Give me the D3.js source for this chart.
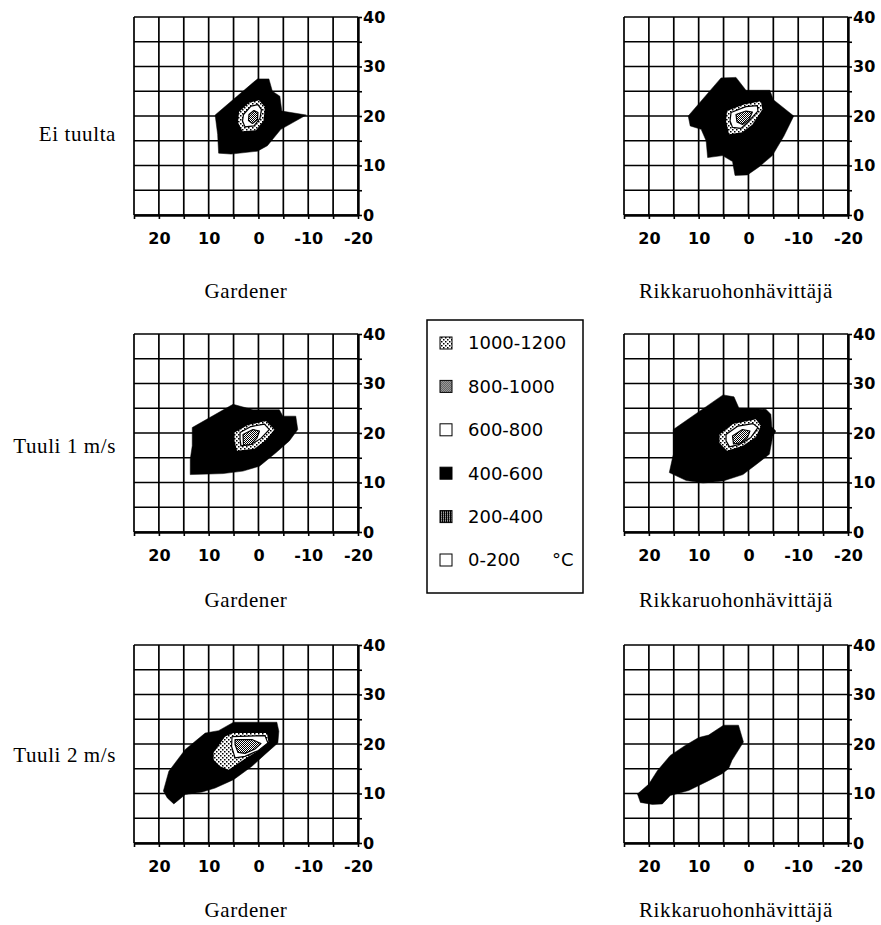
<!DOCTYPE html>
<html>
<head>
<meta charset="utf-8">
<script src="https://cdn.jsdelivr.net/npm/d3@7"></script>
<style>
  body { margin: 0; background: #fff; }
  svg { display: block; }
</style>
</head>
<body>
<svg id="chart" width="881" height="925"></svg>
<script>
// ticks and labels
var xTicks = [20, 10, 0, -10, -20];
var yTicks = [0, 10, 20, 30, 40];
var rowLabels = ['Ei tuulta', 'Tuuli 1 m/s', 'Tuuli 2 m/s'];
var machines = ['Gardener', 'Rikkaruohonhävittäjä'];
var legendLabels = ['1000-1200', '800-1000', '600-800', '400-600', '200-400', '0-200'];

// contour outlines as [x, y] pairs
var gardenerCalm400 = [[8.7,20.2],[0.2,27.5],[-2.1,27.5],[-2.8,25],[-4.3,24],[-4.7,21],[-9.6,20.2],[-4.5,17.3],[-1.8,14],[0.2,12.9],[5.5,12.3],[8,12.5],[8.2,16.3]];
var gardenerCalm1000 = [[3.9,20.8],[1.9,22.7],[-0.1,23.2],[-1.3,21.8],[-1,19],[0.5,17.1],[3.2,16.9],[4.1,18.7]];
var gardenerCalm600 = [[3,20.3],[1.5,22],[0.1,22.3],[-0.6,21.3],[-0.3,19.5],[0.9,18],[2.7,17.8],[3.2,19]];
var gardenerCalm800 = [[1.9,20.3],[0.9,21.1],[0.1,20.7],[0.2,19.3],[1.2,18.5],[2,19.1]];

var weederCalm400 = [[12.1,20],[5.5,27.7],[2.5,27.8],[0.5,25.2],[-4.3,25.2],[-5,23.3],[-9.1,20],[-7.1,15.9],[-4.8,12],[-2.1,9.7],[0.2,8.1],[2.7,8],[3.2,10.8],[5.2,12],[8.2,11.6],[8.5,15],[9.5,17.3],[11.7,18]];
var weederCalm1000 = [[4.3,21],[0.9,22.3],[-2.5,23],[-2.8,21.3],[-0.8,18.3],[1.2,16.7],[3.9,16.3],[4.5,19]];
var weederCalm600 = [[3.5,20.7],[0.5,21.9],[-1.8,22.1],[-1.9,21],[0.1,18.8],[1.5,17.5],[3.2,17.7],[3.7,19]];
var weederCalm800 = [[2.5,20.3],[0.5,21],[-0.8,20.8],[-0.1,19.3],[1.2,18.3],[2.3,18.8]];

var gardenerWind1_400 = [[13.3,21.1],[5.1,25.8],[1.1,24.7],[-4.2,24.7],[-4.9,23.4],[-7.5,23.4],[-7.9,20.7],[-6.2,18.4],[-3.5,16],[-0.2,13.3],[3.1,12.3],[7.1,11.8],[10.1,11.7],[13.7,11.6],[13.7,14.7],[13.3,17.4]];
var gardenerWind1_1000 = [[4.8,20.1],[2.1,21.6],[-1.5,22.4],[-3.2,20.7],[-1.5,18.6],[0.8,16.8],[4.3,16.4],[4.8,18.4]];
var gardenerWind1_600 = [[3.7,20.1],[1.5,21.3],[-1.2,21.8],[-2.2,20.7],[-0.5,18.9],[1.5,17.7],[3.5,17.4],[3.7,18.7]];
var gardenerWind1_800 = [[3.1,19.7],[1.1,20.7],[-0.2,20.4],[0.3,19],[1.5,17.7],[3,17.5]];

var weederWind1_400 = [[15.1,20.7],[5.1,27.7],[2.9,27.3],[1.9,25],[-3.5,24.8],[-4.5,23.8],[-4.7,21.2],[-5.5,20.4],[-4.9,19.4],[-4.2,15.7],[-1.5,13.6],[1.1,11.6],[5.1,10.3],[9.1,9.9],[12.5,10.4],[15.9,12],[15.1,15.7]];
var weederWind1_1000 = [[5.8,19.7],[3.1,21.8],[-1.5,22.8],[-2.5,21.4],[-1.5,19.2],[1.1,17.4],[4.3,16.4],[5.8,18]];
var weederWind1_600 = [[4.5,19.7],[2.1,21.4],[-0.9,21.9],[-1.9,21.1],[-0.5,19.1],[1.8,17.7],[3.8,17.2],[4.5,18.4]];
var weederWind1_800 = [[3.2,19.4],[1.2,20.7],[-0.3,20.4],[0.2,19.1],[1.5,18],[3,17.8]];

var gardenerWind2_400 = [[19.1,10.5],[18,14.5],[14.7,18.9],[10.7,22.2],[8,22.7],[5,24.4],[-3.7,24.4],[-4.1,22.6],[-3.9,20.2],[-1.3,17.9],[1.3,15.5],[5,12.8],[8.7,11.1],[11.3,10.3],[14.7,9.8],[17,7.9],[18.3,9.1]];
var gardenerWind2_1000 = [[9,18.3],[6.7,21.5],[5,22.2],[-1.7,22.2],[-2,20.5],[-0.3,18.9],[2.7,17],[6,14.8],[7.7,15.5],[9,16.8]];
var gardenerWind2_600 = [[5.3,21.5],[-1.3,21.7],[-1.9,20.2],[0,18.7],[2.7,17.5],[4.7,17.2],[5.4,19.5]];
var gardenerWind2_800 = [[4.7,20.9],[1.3,20.9],[-0.5,20.1],[0.7,19],[2.7,18.1],[4.1,18.3],[4.7,19.9]];

var weederWind2_400 = [[22.3,9.9],[20,11.9],[18.3,14.6],[15.7,17.7],[12.7,19.7],[10,21.3],[8,21.8],[5,23.8],[2,23.8],[1,20.4],[3.3,16.7],[4,15],[5.3,14],[8,12.6],[12,10.6],[15.7,9.6],[17.3,7.9],[19.3,7.8],[21.7,8.2]];

var levelOrder = ['400-600', '1000-1200', '600-800', '800-1000'];

var panels = [
  {row: 0, col: 0, shapes: [gardenerCalm400, gardenerCalm1000, gardenerCalm600, gardenerCalm800]},
  {row: 0, col: 1, shapes: [weederCalm400, weederCalm1000, weederCalm600, weederCalm800]},
  {row: 1, col: 0, shapes: [gardenerWind1_400, gardenerWind1_1000, gardenerWind1_600, gardenerWind1_800]},
  {row: 1, col: 1, shapes: [weederWind1_400, weederWind1_1000, weederWind1_600, weederWind1_800]},
  {row: 2, col: 0, shapes: [gardenerWind2_400, gardenerWind2_1000, gardenerWind2_600, gardenerWind2_800]},
  {row: 2, col: 1, shapes: [weederWind2_400]}
];

// layout
var colX = [134, 624];
var rowY = [17, 334, 645];
var W = 224, H = 198;
var rowLabelY = [141, 453, 762];
var titleY = [298, 607, 917];

var svg = d3.select('#chart');
var defs = svg.append('defs');

// fill patterns
function pattern(id, size, dots, bg) {
  var p = defs.append('pattern')
    .attr('id', id)
    .attr('patternUnits', 'userSpaceOnUse')
    .attr('width', size).attr('height', size);
  p.append('rect').attr('width', size).attr('height', size).attr('fill', bg);
  dots.forEach(function(d) {
    p.append('rect').attr('x', d[0]).attr('y', d[1])
      .attr('width', d[2]).attr('height', d[2]).attr('fill', '#000');
  });
}
pattern('p1000', 4, [[0, 0, 1.5], [2, 2, 1.5]], '#fff');
pattern('p800', 2, [[0, 0, 1], [1, 1, 1]], '#fff');
pattern('p200', 2, [[0, 0, 1], [1, 1, 1], [1, 0, 1]], '#fff');

var fills = {
  '1000-1200': 'url(#p1000)',
  '800-1000': 'url(#p800)',
  '600-800': '#fff',
  '400-600': '#000',
  '200-400': 'url(#p200)',
  '0-200': '#fff'
};

var x = d3.scaleLinear().domain([25, -20]).range([0, W]);
var y = d3.scaleLinear().domain([0, 40]).range([H, 0]);

var line = d3.line()
  .x(function(d) { return x(d[0]); })
  .y(function(d) { return y(d[1]); })
  .curve(d3.curveLinearClosed);

panels.forEach(function(p) {
  var g = svg.append('g')
    .attr('transform', 'translate(' + colX[p.col] + ',' + rowY[p.row] + ')');

  // grid
  g.selectAll('.vl').data(d3.range(25, -21, -5)).enter().append('line')
    .attr('x1', function(d) { return x(d); }).attr('x2', function(d) { return x(d); })
    .attr('y1', 0).attr('y2', H)
    .attr('stroke', '#000').attr('stroke-width', 1.7);
  g.selectAll('.hl').data(d3.range(0, 41, 5)).enter().append('line')
    .attr('y1', function(d) { return y(d); }).attr('y2', function(d) { return y(d); })
    .attr('x1', 0).attr('x2', W)
    .attr('stroke', '#000').attr('stroke-width', 1.7);

  // contours
  p.shapes.forEach(function(s, i) {
    var lvl = levelOrder[i];
    g.append('path')
      .datum(s)
      .attr('d', line)
      .attr('fill', fills[lvl])
      .attr('stroke', '#000')
      .attr('stroke-width', i === 0 ? 0.5 : (i === 1 ? 0 : 1.2))
      .attr('stroke-linejoin', 'round');
  });

  // axes
  var ya = g.append('g')
    .attr('transform', 'translate(' + W + ',0)')
    .call(d3.axisRight(y).tickValues(d3.range(0, 41, 5)).tickSize(4).tickSizeOuter(0).tickPadding(1)
      .tickFormat(function(d) { return yTicks.indexOf(d) >= 0 ? d : ''; }));
  var xa = g.append('g')
    .attr('transform', 'translate(0,' + H + ')')
    .call(d3.axisBottom(x).tickValues(d3.range(25, -21, -5)).tickSize(4).tickSizeOuter(0).tickPadding(14)
      .tickFormat(function(d) { return xTicks.indexOf(d) >= 0 ? d : ''; }));

  [ya, xa].forEach(function(a) {
    a.select('.domain').attr('stroke-width', 2.4);
    a.selectAll('.tick line').attr('stroke-width', 1.6);
    a.selectAll('text')
      .attr('fill', '#000')
      .style('font-family', 'DejaVu Sans')
      .style('font-weight', 'bold')
      .style('font-size', '16px');
  });

  // title under the panel
  svg.append('text')
    .attr('x', colX[p.col] + W / 2)
    .attr('y', titleY[p.row])
    .attr('text-anchor', 'middle')
    .style('font-family', 'Liberation Serif')
    .style('font-size', '21px')
    .style('letter-spacing', '0.6px')
    .text(machines[p.col]);
});

// row labels
svg.selectAll('.rowlabel').data(rowLabels).enter().append('text')
  .attr('x', 116)
  .attr('y', function(d, i) { return rowLabelY[i]; })
  .attr('text-anchor', 'end')
  .style('font-family', 'Liberation Serif')
  .style('font-size', '21px')
  .style('letter-spacing', '0.6px')
  .text(function(d) { return d; });

// legend
var lg = svg.append('g').attr('transform', 'translate(427,320)');
lg.append('rect')
  .attr('width', 156).attr('height', 273)
  .attr('fill', '#fff').attr('stroke', '#000').attr('stroke-width', 1.5);

var item = lg.selectAll('.item').data(legendLabels).enter().append('g')
  .attr('transform', function(d, i) { return 'translate(0,' + (23 + i * 43.4) + ')'; });
item.append('rect')
  .attr('x', 13).attr('y', -6).attr('width', 12).attr('height', 12)
  .attr('fill', function(d) { return fills[d]; })
  .attr('stroke', '#000').attr('stroke-width', 1);
item.append('text')
  .attr('x', 41).attr('dy', '0.35em')
  .style('font-family', 'DejaVu Sans')
  .style('font-size', '18px')
  .text(function(d) { return d; });
lg.append('text')
  .attr('x', 125).attr('y', 23 + 5 * 43.4).attr('dy', '0.35em')
  .style('font-family', 'DejaVu Sans')
  .style('font-size', '18px')
  .text('°C');
</script>
</body>
</html>
